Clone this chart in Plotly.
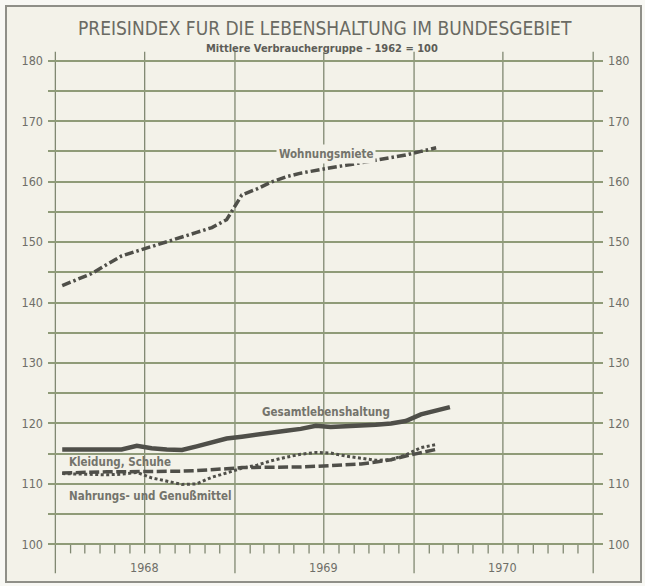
import plotly.graph_objects as go

# ---- data (monthly values, index 1962 = 100) ----
months = [f"{y}-{m:02d}-15" for y in (1968, 1969, 1970) for m in range(1, 13)]

wohnungsmiete = [142.8, 143.8, 144.8, 146.3, 147.7, 148.5, 149.3, 150.0, 150.8, 151.6, 152.4, 153.7,
                 157.8, 158.8, 159.9, 160.8, 161.4, 161.9, 162.3, 162.7, 163.1, 163.5, 163.9, 164.4,
                 165.0, 165.6]
gesamt = [115.7, 115.7, 115.6, 115.6, 115.7, 116.3, 115.9, 115.7, 115.6, 116.2, 116.8, 117.5,
          117.8, 118.2, 118.5, 118.8, 119.1, 119.6, 119.4, 119.5, 119.6, 119.8, 120.0, 120.4,
          121.5, 122.1, 122.7]
kleidung = [111.8, 111.9, 111.9, 112.0, 112.0, 112.0, 112.0, 112.0, 112.1, 112.2, 112.3, 112.5,
            112.7, 112.7, 112.7, 112.7, 112.8, 112.9, 113.0, 113.1, 113.3, 113.6, 114.0, 114.6,
            115.2, 115.7]
nahrung = [111.7, 111.6, 111.5, 111.5, 111.6, 111.9, 111.0, 110.4, 109.9, 110.0, 111.1, 111.8,
           112.6, 113.1, 113.8, 114.4, 114.9, 115.2, 115.1, 114.6, 114.2, 113.9, 114.0, 114.8,
           116.0, 116.5]

y_tickvals = list(range(100, 181, 5))
y_ticktext = [str(v) if v % 10 == 0 else "" for v in y_tickvals]
years = ["1968", "1969", "1970"]

# ---- style ----
W, H = 645, 586
ML, MR, MT, MB = 48, 42, 49, 12
PW, PH = W - ML - MR, H - MT - MB
YR = [95.09, 181.94]
XR = ["1967-12-17", "1971-01-21"]

GRID = "#8f9b78"
VLINE = "#808872"
INK = "#4f4f49"
TXT = "#6f6f68"
COND = "DejaVu Sans Condensed, DejaVu Sans, sans-serif"

def px_x(p):
    return (p - ML) / PW

def px_y(p):
    return (H - MB - p) / PH

fig = go.Figure()

fig.add_trace(go.Scatter(x=months[:len(wohnungsmiete)], y=wohnungsmiete, mode="lines",
                         line=dict(color=INK, width=3.5, dash="9px,3px,2.5px,3px"),
                         name="Wohnungsmiete", showlegend=False))
fig.add_trace(go.Scatter(x=months[:len(gesamt)], y=gesamt, mode="lines",
                         line=dict(color=INK, width=4.5),
                         name="Gesamtlebenshaltung", showlegend=False))
fig.add_trace(go.Scatter(x=months[:len(kleidung)], y=kleidung, mode="lines",
                         line=dict(color=INK, width=3.5, dash="10px,3.5px"),
                         name="Kleidung, Schuhe", showlegend=False))
fig.add_trace(go.Scatter(x=months[:len(nahrung)], y=nahrung, mode="lines",
                         line=dict(color=INK, width=3, dash="3px,2.5px"),
                         name="Nahrungs- und Genußmittel", showlegend=False))
# invisible trace to activate right axis
fig.add_trace(go.Scatter(x=[months[0]], y=[gesamt[0]], yaxis="y2", mode="markers",
                         marker=dict(opacity=0), showlegend=False, hoverinfo="skip"))

shapes = []
# outer frame
shapes.append(dict(type="rect", xref="paper", yref="paper",
                   x0=px_x(6), x1=px_x(641), y0=px_y(582), y1=px_y(6),
                   line=dict(color="#8f8f88", width=2), fillcolor="#f3f2e9", layer="below"))
# vertical lines
for yr in (1968, 1969, 1970, 1971):
    shapes.append(dict(type="line", xref="x", yref="y", x0=f"{yr}-01-01", x1=f"{yr}-01-01",
                       y0=95.2, y1=181.5, line=dict(color=VLINE, width=1.3), layer="below"))
for yr in (1968, 1969, 1970):
    shapes.append(dict(type="line", xref="x", yref="y", x0=f"{yr}-07-01", x1=f"{yr}-07-01",
                       y0=98.5, y1=181.5, line=dict(color=VLINE, width=1.3), layer="below"))
    for m in (2, 3, 4, 5, 6, 8, 9, 10, 11, 12):
        shapes.append(dict(type="line", xref="x", yref="y", x0=f"{yr}-{m:02d}-01", x1=f"{yr}-{m:02d}-01",
                           y0=98.5, y1=100, line=dict(color=VLINE, width=1.3), layer="below"))

annotations = []
for yr in years:
    annotations.append(dict(x=f"{yr}-07-01", y=96.1, xref="x", yref="y", text=yr, showarrow=False,
                            xanchor="center", yanchor="middle",
                            font=dict(family=COND, size=12.5, color=TXT)))

def ann(x, y, text, font, xanchor="center", **kw):
    annotations.append(dict(x=px_x(x), y=px_y(y), xref="paper", yref="paper", text=text,
                            showarrow=False, xanchor=xanchor, yanchor="middle", font=font, **kw))

ann(325, 28, "PREISINDEX FUR DIE LEBENSHALTUNG IM BUNDESGEBIET",
    dict(family=COND, size=19, color="#6a6a63"))
ann(322, 48.5, "<b>Mittlere Verbrauchergruppe – 1962 = 100</b>",
    dict(family=COND, size=11, color="#5d5d57"))

lab = dict(family=COND, size=11.5, color="#74746c")
ann(326, 154, "<b>Wohnungsmiete</b>", lab, bgcolor="#f3f2e9", borderpad=2)
ann(326, 412, "<b>Gesamtlebenshaltung</b>", lab)
ann(67, 462, "<b>Kleidung, Schuhe</b>", lab, xanchor="left")
ann(67, 496, "<b>Nahrungs- und Genußmittel</b>", lab, xanchor="left")

yax = dict(range=YR, tickvals=y_tickvals, ticktext=y_ticktext, showline=False, zeroline=False,
           ticks="", tickfont=dict(family=COND, size=12.5, color=TXT), fixedrange=True)

fig.update_layout(
    width=W, height=H,
    margin=dict(l=ML, r=MR, t=MT, b=MB, autoexpand=False),
    paper_bgcolor="#f8f8f4", plot_bgcolor="rgba(0,0,0,0)",
    xaxis=dict(type="date", range=XR, showgrid=False, showticklabels=False, zeroline=False,
               showline=False, ticks="", fixedrange=True),
    yaxis=dict(**yax, showgrid=True, gridcolor=GRID, gridwidth=1.6, ticklabelstandoff=4),
    yaxis2=dict(**yax, overlaying="y", side="right", showgrid=False, ticklabelstandoff=4),
    shapes=shapes, annotations=annotations,
    showlegend=False,
)

fig.write_html("out.html", config={"displayModeBar": False},
               post_script="document.body.style.margin='0';document.body.style.background='#f8f8f4';")
